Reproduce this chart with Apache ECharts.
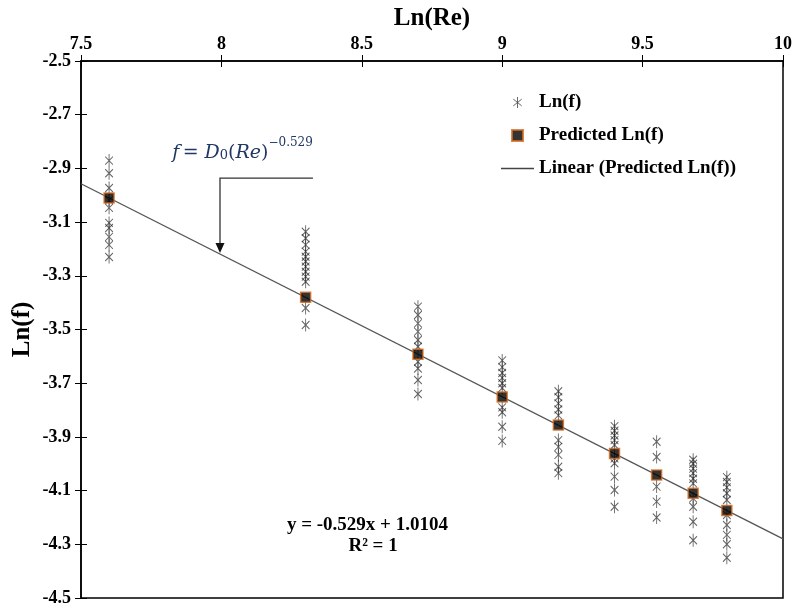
<!DOCTYPE html>
<html>
<head>
<meta charset="utf-8">
<script src="https://cdn.jsdelivr.net/npm/echarts@6/dist/echarts.min.js"></script>
<style>html,body{margin:0;padding:0;background:#fff}#c{width:797px;height:609px}</style>
</head>
<body>
<div id="c"></div>
<script>
// ---- data ----
const lnRe = [7.6, 8.3, 8.7, 9.0, 9.2, 9.4, 9.55, 9.68, 9.8];
const obs76  = [-2.871, -2.918, -2.973, -3.018, -3.047, -3.103, -3.122, -3.155, -3.185, -3.230];
const obs83  = [-3.136, -3.160, -3.185, -3.210, -3.229, -3.247, -3.266, -3.285, -3.303, -3.322, -3.420, -3.483];
const obs87  = [-3.415, -3.446, -3.477, -3.508, -3.539, -3.564, -3.620, -3.645, -3.688, -3.740];
const obs90  = [-3.615, -3.640, -3.662, -3.680, -3.700, -3.718, -3.790, -3.808, -3.862, -3.915];
const obs92  = [-3.730, -3.752, -3.775, -3.798, -3.820, -3.912, -3.937, -3.967, -4.011, -4.035];
const obs94  = [-3.860, -3.877, -3.895, -3.912, -3.930, -3.980, -3.998, -4.048, -4.098, -4.160];
const obs955 = [-3.918, -3.975, -4.085, -4.141, -4.200];
const obs968 = [-3.985, -4.000, -4.018, -4.035, -4.056, -4.073, -4.129, -4.160, -4.216, -4.285];
const obs98  = [-4.050, -4.068, -4.088, -4.110, -4.135, -4.191, -4.228, -4.265, -4.300, -4.350];
const observed = [obs76, obs83, obs87, obs90, obs92, obs94, obs955, obs968, obs98];
const predicted = [-3.010, -3.380, -3.592, -3.751, -3.856, -3.962, -4.042, -4.110, -4.174];
const slope = -0.529, intercept = 1.0104;
const trendX = [7.5, 10];
const xTicks = {min: 7.5, max: 10, step: 0.5};
const yTicks = {min: -4.5, max: -2.5, step: 0.2};

// ---- build series data ----
const obsData = [];
observed.forEach((arr, i) => arr.forEach(v => obsData.push([lnRe[i], v])));
const predData = lnRe.map((x, i) => [x, predicted[i]]);
const trendData = trendX.map(x => [x, slope * x + intercept]);

const FONT = 'Liberation Serif';
const star = 'path://M5,0L5,13M0,2.5L10,10.5M0,10.5L10,2.5';
const square = 'path://M0,0L10,0L10,10L0,10Z';
const lineIcon = 'path://M0,0L33,0L33,1.4L0,1.4Z';

const chart = echarts.init(document.getElementById('c'));
const axisLbl = {fontFamily: FONT, fontWeight: 'bold', fontSize: 18, color: '#000'};
chart.setOption({
  animation: false,
  backgroundColor: '#fff',
  grid: {left: 81, right: 14, top: 61, bottom: 11, containLabel: false, outerBoundsMode: 'none',
         show: true, borderColor: '#000', borderWidth: 1.5},
  legend: {
    orient: 'vertical', left: 496, top: 88, itemWidth: 33, itemHeight: 11, itemGap: 14,
    textStyle: {fontFamily: FONT, fontWeight: 'bold', fontSize: 19, color: '#000'},
    data: [
      {name: 'Ln(f)', icon: star, itemStyle: {color: 'transparent', borderColor: '#444', borderWidth: 1}},
      {name: 'Predicted Ln(f)', icon: square},
      {name: 'Linear (Predicted Ln(f))', icon: lineIcon, itemStyle: {color: '#444', borderWidth: 0}}
    ]
  },
  xAxis: [{
    type: 'value', position: 'top', min: xTicks.min, max: xTicks.max, interval: xTicks.step,
    name: 'Ln(Re)', nameLocation: 'middle', nameGap: 30, nameMoveOverlap: false,
    nameTextStyle: {fontFamily: FONT, fontWeight: 'bold', fontSize: 25, color: '#000'},
    axisLine: {lineStyle: {color: '#000', width: 1.5}},
    axisTick: {length: 6, lineStyle: {color: '#000'}},
    axisLabel: Object.assign({margin: 8}, axisLbl),
    splitLine: {show: false}
  }, {
    type: 'value', position: 'top', min: xTicks.min, max: xTicks.max, interval: xTicks.step,
    axisLine: {show: false}, axisTick: {inside: true, length: 6, lineStyle: {color: '#000'}},
    axisLabel: {show: false}, splitLine: {show: false}
  }],
  yAxis: [{
    type: 'value', min: yTicks.min, max: yTicks.max, interval: yTicks.step,
    name: 'Ln(f)', nameLocation: 'middle', nameGap: 46, nameRotate: 90, nameMoveOverlap: false,
    nameTextStyle: {fontFamily: FONT, fontWeight: 'bold', fontSize: 25, color: '#000'},
    axisLine: {show: true, lineStyle: {color: '#000', width: 1.5}},
    axisTick: {show: true, length: 6, lineStyle: {color: '#000'}},
    axisLabel: Object.assign({margin: 10, formatter: v => v.toFixed(1)}, axisLbl),
    splitLine: {show: false}
  }, {
    type: 'value', position: 'left', min: yTicks.min, max: yTicks.max, interval: yTicks.step,
    axisLine: {show: false}, axisTick: {show: true, inside: true, length: 6, lineStyle: {color: '#000'}},
    axisLabel: {show: false}, splitLine: {show: false}
  }],
  series: [
    {
      name: 'Linear (Predicted Ln(f))', type: 'line', data: trendData, symbol: 'none',
      lineStyle: {color: '#555', width: 1.3}, itemStyle: {color: '#555'}, z: 1
    },
    {
      name: 'Ln(f)', type: 'scatter', data: obsData, symbol: star, symbolSize: [10, 13], symbolKeepAspect: true,
      itemStyle: {color: 'transparent', borderColor: 'rgba(40,40,40,0.9)', borderWidth: 1}, z: 2
    },
    {
      name: 'Predicted Ln(f)', type: 'scatter', data: predData, symbol: 'rect', symbolSize: 10,
      itemStyle: {color: '#000', borderColor: '#d86a1e', borderWidth: 1.5}, z: 3
    }
  ]
});

// ---- annotations ----
const p = (x, y) => chart.convertToPixel({xAxisIndex: 0, yAxisIndex: 0}, [x, y]);
const elbow = p(7.995, -2.936), hEnd = p(8.326, -2.936), tip = p(7.995, -3.215);
const eqPos = p(8.52, -4.228), r2Pos = p(8.54, -4.305);
const fPos = p(7.825, -2.83);
const blue = '#1f3864';
chart.setOption({
  graphic: [
    {type: 'polyline', shape: {points: [hEnd, elbow, [tip[0], tip[1] - 8]]},
     style: {stroke: '#333', lineWidth: 1.3, fill: null}},
    {type: 'polygon', shape: {points: [[tip[0] - 4.5, tip[1] - 10], [tip[0] + 4.5, tip[1] - 10], tip]},
     style: {fill: '#111'}},
    {type: 'text', x: fPos[0], y: fPos[1],
     style: {
       text: '{i|f} {n|= }{i|D}{sub|0}{n|(}{i|Re}{n|)}{sup|−0.529}',
       verticalAlign: 'middle',
       rich: {
         i: {fontFamily: 'DejaVu Serif', fontStyle: 'italic', fontSize: 19, fill: blue, verticalAlign: 'bottom', lineHeight: 26},
         n: {fontFamily: 'DejaVu Serif', fontSize: 19, fill: blue, verticalAlign: 'bottom', lineHeight: 26},
         sub: {fontFamily: 'DejaVu Serif', fontSize: 13, fill: blue, verticalAlign: 'bottom', lineHeight: 20},
         sup: {fontFamily: 'DejaVu Serif', fontSize: 12, fill: blue, verticalAlign: 'top', lineHeight: 12}
       }
     }},
    {type: 'text', x: eqPos[0], y: eqPos[1],
     style: {text: 'y = -0.529x + 1.0104', align: 'center', verticalAlign: 'middle',
       fontFamily: FONT, fontWeight: 'bold', fontSize: 19, fill: '#000'}},
    {type: 'text', x: r2Pos[0], y: r2Pos[1],
     style: {text: 'R² = 1', align: 'center', verticalAlign: 'middle',
       fontFamily: FONT, fontWeight: 'bold', fontSize: 19, fill: '#000'}}
  ]
});
</script>
</body>
</html>
